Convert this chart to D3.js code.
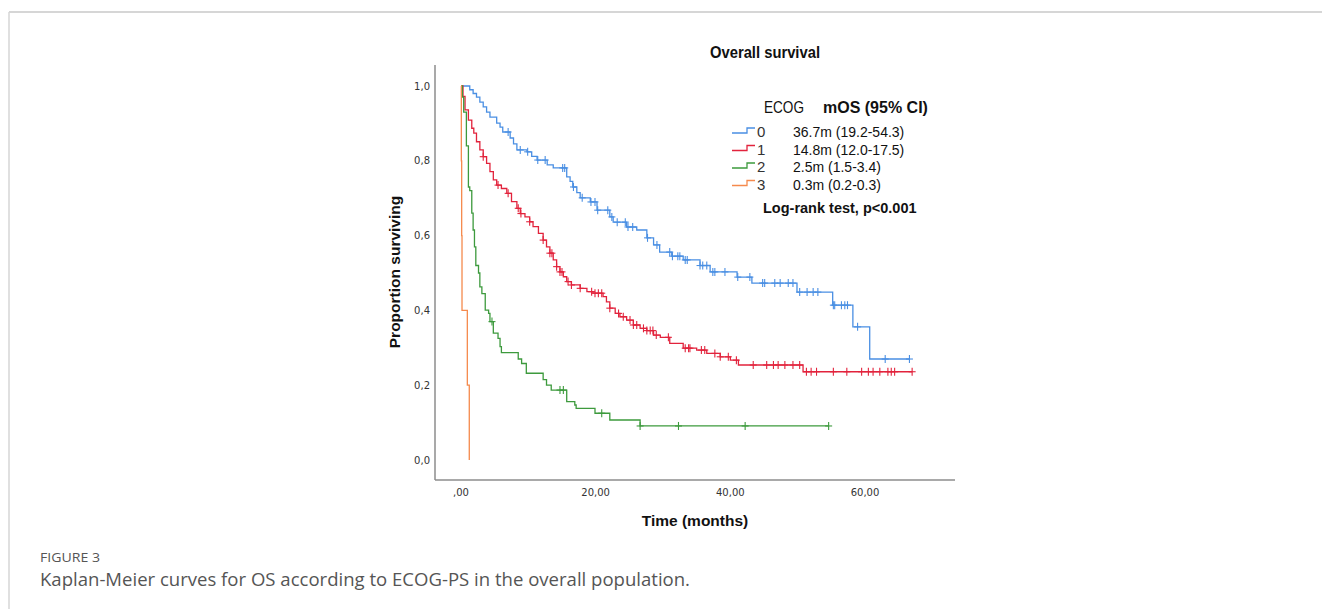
<!DOCTYPE html>
<html><head><meta charset="utf-8">
<script src="https://cdn.jsdelivr.net/npm/d3@7"></script>
<style>
html,body{margin:0;padding:0;background:#fff;}
svg{display:block;}
</style></head>
<body>
<svg id="chart" width="1322" height="609"></svg>
<script>
// ---------- DATA ----------
const groups = ["0", "1", "2", "3"];
const legendLabels = ["36.7m (19.2-54.3)", "14.8m (12.0-17.5)", "2.5m (1.5-3.4)", "0.3m (0.2-0.3)"];
const colors = ["#4a8fe3", "#e2233c", "#3d9a3d", "#f58a4d"];

const xTicks = [0, 20, 40, 60];
const xTickLabels = [",00", "20,00", "40,00", "60,00"];
const yTicks = [0, 0.2, 0.4, 0.6, 0.8, 1.0];
const yTickLabels = ["0,0", "0,2", "0,4", "0,6", "0,8", "1,0"];

// ECOG 0 : event times and survival after each event
const ecog0Times = [1.3,1.8,2.3,2.8,3.3,3.8,4.3,5.3,5.8,6.2,7.3,7.8,8.3,9.8,10.5,11.3,12.8,13.7,15.7,16.2,16.6,17.2,17.7,19.2,20.2,22.1,22.6,24.6,26.1,27.6,28.6,29.5,31.3,33.0,35.5,37.0,41.0,43.2,49.9,55.2,58.2,60.7];
const ecog0Surv  = [0.99,0.98,0.97,0.957,0.944,0.93,0.917,0.901,0.89,0.877,0.861,0.845,0.829,0.824,0.812,0.802,0.789,0.781,0.757,0.745,0.730,0.715,0.701,0.690,0.668,0.650,0.636,0.623,0.615,0.594,0.575,0.556,0.545,0.535,0.52,0.503,0.489,0.473,0.449,0.414,0.356,0.270];
const ecog0Censor = [7.0,8.8,9.9,11.4,12.5,15.1,15.4,16.7,18.0,19.3,19.9,20.3,21.8,22.4,23.2,24.4,24.8,25.5,27.7,29.1,31.0,31.4,32.2,32.5,33.3,33.6,35.5,35.9,36.5,37.4,37.7,39.2,41.1,42.9,44.8,45.1,46.6,47.4,48.6,49.3,50.3,51.4,52.3,53.0,55.3,55.5,56.5,57.0,57.4,58.9,63.0,66.6];
const ecog0End = 66.6;

// ECOG 1
const ecog1Times = [0.3,0.6,1.1,1.6,1.9,2.3,2.8,3.3,3.8,4.3,4.8,5.3,6.0,6.8,7.5,8.3,8.8,9.5,10.2,10.7,11.5,12.2,12.7,13.2,13.7,14.2,14.7,15.2,15.7,16.4,17.7,18.7,19.6,21.1,21.6,22.1,22.9,23.6,24.6,25.6,26.6,27.6,28.6,29.6,31.0,33.0,35.0,36.5,38.5,40.0,41.2,50.8];
const ecog1Surv  = [0.972,0.936,0.909,0.887,0.874,0.851,0.829,0.811,0.793,0.771,0.749,0.735,0.726,0.713,0.691,0.673,0.659,0.650,0.637,0.624,0.606,0.588,0.570,0.553,0.535,0.517,0.503,0.490,0.477,0.468,0.459,0.450,0.446,0.437,0.423,0.406,0.392,0.383,0.374,0.361,0.352,0.346,0.334,0.328,0.312,0.299,0.294,0.285,0.276,0.267,0.254,0.236];
const ecog1Censor = [3.3,5.5,7.0,8.5,8.9,10.2,12.2,13.2,13.5,14.2,14.7,15.0,15.9,16.4,17.7,19.4,19.9,20.4,20.9,22.1,23.4,24.1,25.1,25.6,26.1,27.1,27.6,28.1,28.5,29.0,30.8,33.3,33.8,34.0,35.7,36.2,37.7,38.5,39.7,40.9,43.4,45.4,46.4,47.1,48.1,49.3,50.3,51.3,52.0,52.8,55.3,57.3,59.5,60.5,61.2,62.2,63.4,63.9,64.4,67.0];
const ecog1End = 67.0;

// ECOG 2
const ecog2Times = [0.2,0.4,0.8,1.1,1.3,1.6,1.8,2.0,2.2,2.6,2.8,3.1,3.6,4.1,4.3,4.8,5.5,5.8,6.0,8.5,9.0,9.7,12.2,12.7,13.4,15.7,16.9,17.1,19.9,22.1,26.6];
const ecog2Surv  = [0.97,0.93,0.84,0.73,0.72,0.66,0.615,0.57,0.52,0.50,0.463,0.445,0.401,0.392,0.370,0.339,0.325,0.303,0.287,0.27,0.258,0.232,0.215,0.200,0.187,0.156,0.147,0.138,0.125,0.107,0.091];
const ecog2Censor = [4.6,14.7,15.2,20.9,26.6,32.3,42.2,54.6];
const ecog2End = 54.6;

// ECOG 3
const ecog3Times = [0.05,0.1,0.15,0.94,1.23];
const ecog3Surv  = [0.8,0.6,0.4,0.2,0.0];
const ecog3Censor = [];
const ecog3End = 1.23;

const series = [
  {times: ecog0Times, surv: ecog0Surv, censor: ecog0Censor, end: ecog0End},
  {times: ecog1Times, surv: ecog1Surv, censor: ecog1Censor, end: ecog1End},
  {times: ecog2Times, surv: ecog2Surv, censor: ecog2Censor, end: ecog2End},
  {times: ecog3Times, surv: ecog3Surv, censor: ecog3Censor, end: ecog3End}
];

// ---------- LAYOUT ----------
const svg = d3.select("#chart");
const axisLeftX = 435, axisBottomY = 480, axisTopY = 65, axisRightX = 955;
const x = d3.scaleLinear().domain([0, 60]).range([461, 865]);
const y = d3.scaleLinear().domain([0, 1]).range([460, 86]);

// page frame
svg.append("line").attr("x1", 9).attr("x2", 1322).attr("y1", 12).attr("y2", 12)
  .attr("stroke", "#d6d6d6").attr("stroke-width", 2);
svg.append("line").attr("x1", 9).attr("x2", 9).attr("y1", 12).attr("y2", 609)
  .attr("stroke", "#d6d6d6").attr("stroke-width", 1.5);

// axes lines
svg.append("line").attr("x1", axisLeftX).attr("x2", axisLeftX).attr("y1", axisTopY).attr("y2", axisBottomY)
  .attr("stroke", "#8c8c8c").attr("stroke-width", 1.5);
svg.append("line").attr("x1", axisLeftX).attr("x2", axisRightX).attr("y1", axisBottomY).attr("y2", axisBottomY)
  .attr("stroke", "#8c8c8c").attr("stroke-width", 1.5);

const tickFont = "DejaVu Sans, Verdana, sans-serif";
// y tick labels
svg.append("g").selectAll("text").data(yTicks).join("text")
  .attr("x", 430).attr("y", d => y(d) + 3.5)
  .attr("text-anchor", "end").attr("font-family", tickFont).attr("font-size", 10)
  .attr("fill", "#333").text((d, i) => yTickLabels[i]);
// x tick labels
svg.append("g").selectAll("text").data(xTicks).join("text")
  .attr("x", d => x(d)).attr("y", 496)
  .attr("text-anchor", "middle").attr("font-family", tickFont).attr("font-size", 10)
  .attr("fill", "#333").text((d, i) => xTickLabels[i]);

// axis titles
svg.append("text").attr("x", 695).attr("y", 526).attr("text-anchor", "middle")
  .attr("font-family", "Liberation Sans, Arial, sans-serif").attr("font-weight", "bold")
  .attr("font-size", 15.5).attr("fill", "#111").text("Time (months)");
svg.append("text").attr("transform", "translate(400,272) rotate(-90)").attr("text-anchor", "middle")
  .attr("font-family", "Liberation Sans, Arial, sans-serif").attr("font-weight", "bold")
  .attr("font-size", 15.5).attr("fill", "#111").text("Proportion surviving");

// chart title
svg.append("text").attr("x", 710).attr("y", 58)
  .attr("font-family", "Liberation Sans Narrow, Liberation Sans, Arial, sans-serif")
  .attr("font-weight", "bold").attr("font-size", 16.5).attr("fill", "#111")
  .attr("textLength", 110).attr("lengthAdjust", "spacingAndGlyphs")
  .text("Overall survival");

// ---------- CURVES ----------
const line = d3.line().x(d => x(d[0])).y(d => y(d[1])).curve(d3.curveStepAfter);
series.forEach((s, i) => {
  const pts = [[0, 1]];
  s.times.forEach((t, k) => pts.push([t, s.surv[k]]));
  const last = s.surv[s.surv.length - 1];
  if (s.end > s.times[s.times.length - 1]) pts.push([s.end, last]);
  svg.append("path").attr("d", line(pts)).attr("fill", "none")
    .attr("stroke", colors[i]).attr("stroke-width", 1.3);
  // censor marks
  const g = svg.append("g").attr("stroke", colors[i]).attr("stroke-width", 1.1);
  s.censor.forEach(c => {
    const idx = d3.bisectRight(s.times, c);
    const v = idx === 0 ? 1 : s.surv[idx - 1];
    const cx = x(c), cy = y(v);
    g.append("line").attr("x1", cx).attr("x2", cx).attr("y1", cy - 4).attr("y2", cy + 4);
    g.append("line").attr("x1", cx - 3.5).attr("x2", cx + 3.5).attr("y1", cy).attr("y2", cy);
  });
});

// ---------- LEGEND ----------
const lg = svg.append("g");
lg.append("text").attr("x", 764).attr("y", 113)
  .attr("font-family", "Liberation Sans Narrow, Liberation Sans, Arial, sans-serif")
  .attr("font-size", 16).attr("fill", "#111")
  .attr("textLength", 40).attr("lengthAdjust", "spacingAndGlyphs").text("ECOG");
lg.append("text").attr("x", 823).attr("y", 113)
  .attr("font-family", "Liberation Sans, Arial, sans-serif").attr("font-weight", "bold")
  .attr("font-size", 16).attr("fill", "#111").text("mOS (95% CI)");
const rowY = [137, 154.5, 172, 189.5];
groups.forEach((gname, i) => {
  const by = rowY[i];
  lg.append("path")
    .attr("d", `M732,${by - 4}H747V${by - 9}H755`)
    .attr("fill", "none").attr("stroke", colors[i]).attr("stroke-width", 1.3);
  lg.append("text").attr("x", 757).attr("y", by)
    .attr("font-family", "Liberation Sans Narrow, Liberation Sans, Arial, sans-serif")
    .attr("font-size", 15).attr("fill", "#333").text(gname);
  lg.append("text").attr("x", 793).attr("y", by)
    .attr("font-family", "Liberation Sans, Arial, sans-serif")
    .attr("font-size", 14).attr("fill", "#111").text(legendLabels[i]);
});
lg.append("text").attr("x", 763).attr("y", 213)
  .attr("font-family", "Liberation Sans, Arial, sans-serif").attr("font-weight", "bold")
  .attr("font-size", 14.5).attr("fill", "#111").text("Log-rank test, p<0.001");

// ---------- CAPTION ----------
svg.append("text").attr("x", 40).attr("y", 562)
  .attr("font-family", "Open Sans, Noto Sans, sans-serif").attr("font-size", 13.5)
  .attr("fill", "#555").attr("textLength", 60).attr("lengthAdjust", "spacingAndGlyphs")
  .text("FIGURE 3");
svg.append("text").attr("x", 40).attr("y", 586)
  .attr("font-family", "Open Sans, Noto Sans, sans-serif").attr("font-size", 17.5)
  .attr("fill", "#555").attr("textLength", 650).attr("lengthAdjust", "spacingAndGlyphs")
  .text("Kaplan-Meier curves for OS according to ECOG-PS in the overall population.");
</script>
</body></html>
